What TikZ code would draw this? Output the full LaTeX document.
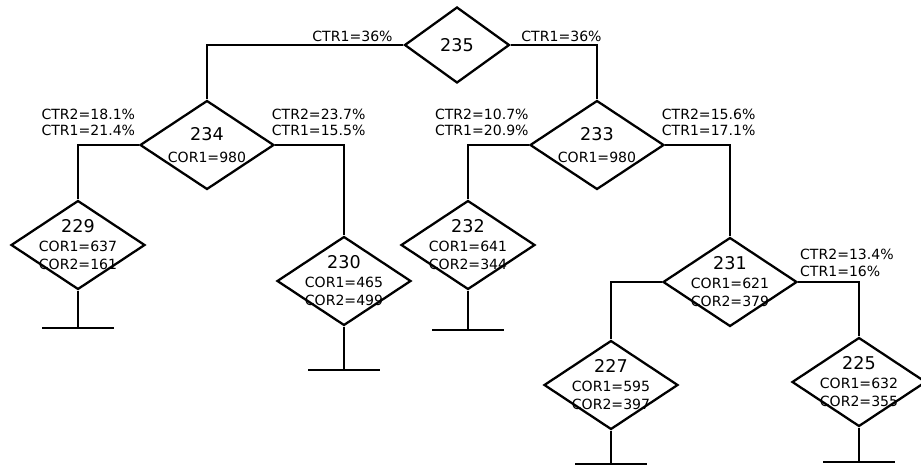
\documentclass[tikz,border=0pt]{standalone}
\usepackage{fontspec}
\setmainfont{DejaVu Sans}
\usepackage{tikz}
\usetikzlibrary{shapes.geometric, positioning, calc}

\begin{document}
\begin{tikzpicture}[
    x=0.02cm, y=-0.02cm,
    line width=1.3pt,
    % Split nodes
    split/.style={
        diamond, draw, aspect=1.5, inner xsep=-0.3cm, inner ysep=-0.3cm,
        align=center, minimum width=2.68cm, minimum height=1.78cm,
        font=\fontsize{8}{10.5}\selectfont
    },
    rootsplit/.style={split, minimum width=2.1cm, minimum height=1.52cm},
    % Labels
    rate_text/.style={font=\fontsize{8}{9.5}\selectfont, align=left, inner sep=1.5pt}
]

    \useasboundingbox (0,0) rectangle (921,466);

    % --- ROOT ---
    \node[rootsplit] (n235) at (457,45) {\fontsize{10}{12}\selectfont 235};

    % --- SECOND LEVEL ---
    \node[split] (n234) at (207,145) {{\fontsize{10}{12}\selectfont 234}\\[2pt]COR1=980};
    \node[split] (n233) at (597,145) {{\fontsize{10}{12}\selectfont 233}\\[2pt]COR1=980};

    % --- THIRD LEVEL ---
    \node[split] (n229) at (78,245)  {{\fontsize{10}{12}\selectfont 229}\\COR1=637\\COR2=161};
    \node[split] (n230) at (344,281) {{\fontsize{10}{12}\selectfont 230}\\COR1=465\\COR2=499};
    \node[split] (n232) at (468,245) {{\fontsize{10}{12}\selectfont 232}\\COR1=641\\COR2=344};
    \node[split] (n231) at (730,282) {{\fontsize{10}{12}\selectfont 231}\\COR1=621\\COR2=379};

    % --- FOURTH LEVEL ---
    \node[split] (n227) at (611,385) {{\fontsize{10}{12}\selectfont 227}\\COR1=595\\COR2=397};
    \node[split] (n225) at (859,382) {{\fontsize{10}{12}\selectfont 225}\\COR1=632\\COR2=355};

    % --- BRANCHES ---
    \draw (n235.west) -| (n234.north);
    \draw (n235.east) -| (n233.north);
    \draw (n234.west) -| (n229.north);
    \draw (n234.east) -| (n230.north);
    \draw (n233.west) -| (n232.north);
    \draw (n233.east) -| (n231.north);
    \draw (n231.west) -| (n227.north);
    \draw (n231.east) -| (n225.north);

    % --- RATES ---
    \node[rate_text, above left=0pt and 4pt of n235.west]  (r235l) {CTR1=36\%};
    \node[rate_text, above right=0pt and 4pt of n235.east] (r235r) {CTR1=36\%};
    \node[rate_text, above left=3pt and 0pt of n234.west]  (r234l) {CTR2=18.1\%\\CTR1=21.4\%};
    \node[rate_text, above right=3pt and -4pt of n234.east] (r234r) {CTR2=23.7\%\\CTR1=15.5\%};
    \node[rate_text, above left=3pt and -2pt of n233.west]  (r233l) {CTR2=10.7\%\\CTR1=20.9\%};
    \node[rate_text, above right=3pt and -4pt of n233.east] (r233r) {CTR2=15.6\%\\CTR1=17.1\%};
    \node[rate_text, above right=1pt and -1pt of n231.east] (r231r) {CTR2=13.4\%\\CTR1=16\%};

    % --- LEAVES ---
    \foreach \n/\x/\y in {229/78/328, 230/344/370, 232/468/330, 227/611/464, 225/859/462} {
        \coordinate (g\n) at (\x,\y);
        \draw (n\n.south) -- (g\n);
        \draw ($(g\n)+(-36,0)$) -- ($(g\n)+(36,0)$);
    }

\end{tikzpicture}
\end{document}
